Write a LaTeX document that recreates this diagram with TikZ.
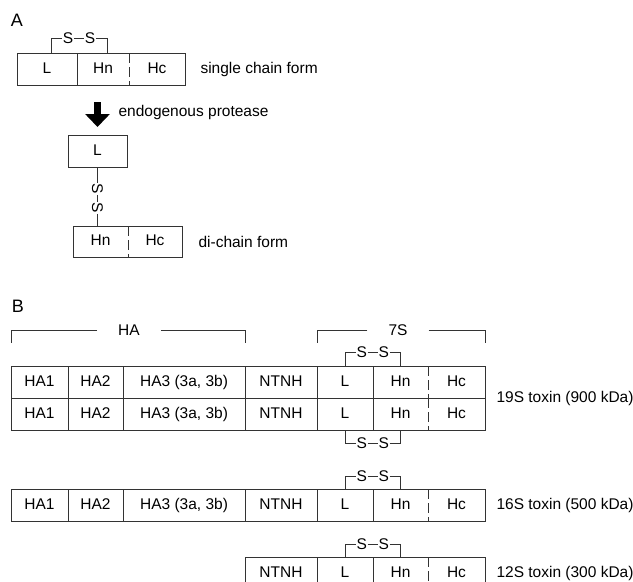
\documentclass[tikz,border=0pt]{standalone}
\usepackage{fontspec}
\setmainfont{Liberation Sans}
\usetikzlibrary{arrows.meta,positioning,calc}
\tikzset{
  box/.style={draw=black!80,line width=1pt},
  cell/.style={minimum height=32pt,inner sep=0pt,outer sep=0pt,text height=11.5pt,text depth=3pt},
  ssnode/.style={inner sep=0.8pt,outer sep=0pt},
  bigarrow/.style={line width=7pt,-{Triangle[width=24pt,length=13pt]}},
  cleave/.style={dash pattern=on 10pt off 4pt},
  tag/.style={font=\fontsize{18}{20}\selectfont},
}

\begin{document}
\begin{tikzpicture}[x=1pt,y=-1pt,every node/.style={font=\fontsize{15.5}{18}\selectfont}]
  \clip (0,0) rectangle (633,582);

  % ---- A: single chain and di-chain form
  \node[tag] (tagA) at (17,20) {A};

  \node[cell,anchor=north west,minimum width=60pt] (a-l) at (17,53) {L};
  \node[cell,right=0pt of a-l,minimum width=52pt] (a-hn) {Hn};
  \node[cell,right=0pt of a-hn,minimum width=56pt] (a-hc) {Hc};
  \node[right=12pt of a-hc] (single) {single chain form};
  \draw[box] (a-l.north west) rectangle (a-hc.south east);
  \draw[box] (a-l.north east) -- (a-l.south east);
  \draw[box,cleave] (a-hn.north east) -- (a-hn.south east);

  \coordinate (am) at ($([xshift=4pt]a-l.north)!0.5!([xshift=4pt]a-hn.north)$);
  \node[ssnode] (sa-a) at ($(am)+(-11,-15)$) {S};
  \node[ssnode] (sa-b) at ($(am)+(11,-15)$) {S};
  \draw[box] ([xshift=4pt]a-l.north) |- (sa-a.west) (sa-a) -- (sa-b) (sa-b.east) -| ([xshift=4pt]a-hn.north);

  \node[cell,draw=black!80,line width=1pt,anchor=north west,minimum width=59pt] (lb) at (68,135) {L};
  \draw[bigarrow,shorten <=17pt,shorten >=8pt] (lb.north |- a-l.south) -- (lb.north);
  \node[anchor=west] (prot) at (115,112) {endogenous protease};

  \node[cell,anchor=north west,minimum width=55pt,minimum height=31pt] (hb-hn) at (73,226) {Hn};
  \node[cell,right=0pt of hb-hn,minimum width=54pt,minimum height=31pt] (hb-hc) {Hc};
  \node[right=13pt of hb-hc] (dichain) {di-chain form};
  \draw[box] (hb-hn.north west) rectangle (hb-hc.south east);
  \draw[box,cleave] (hb-hn.north east) -- (hb-hn.south east);

  \node[ssnode,rotate=-90] (sv-a) at ($(lb.south)+(0,22)$) {S};
  \node[ssnode,rotate=-90] (sv-b) at ($(lb.south)+(0,41)$) {S};
  \draw[box] (lb.south) -- (sv-a) -- (sv-b) -- (sv-b |- hb-hn.north);

  % ---- B: progenitor toxins
  \node[tag] (tagB) at (18,306) {B};

  \foreach \r/\y in {1/366,2/398,3/489}{
    \node[cell,anchor=north west,minimum width=57pt] (r\r-ha1) at (11,\y) {HA1};
    \node[cell,right=0pt of r\r-ha1,minimum width=55pt] (r\r-ha2) {HA2};
    \node[cell,right=0pt of r\r-ha2,minimum width=122pt] (r\r-ha3) {HA3 (3a, 3b)};
    \node[cell,right=0pt of r\r-ha3,minimum width=72pt] (r\r-ntnh) {NTNH};
  }
  \node[cell,anchor=north west,minimum width=72pt] (r4-ntnh) at (245,557) {NTNH};
  \foreach \r in {1,2,3,4}{
    \node[cell,right=0pt of r\r-ntnh,minimum width=56pt] (r\r-l) {L};
    \node[cell,right=0pt of r\r-l,minimum width=55pt] (r\r-hn) {Hn};
    \node[cell,right=0pt of r\r-hn,minimum width=57pt] (r\r-hc) {Hc};
    \draw[box,cleave] (r\r-hn.north east) -- (r\r-hn.south east);
  }
  \foreach \r in {1,2,3}{
    \draw[box] (r\r-ha1.north west) rectangle (r\r-hc.south east);
    \foreach \c in {ha1,ha2,ha3,ntnh,l}
      \draw[box] (r\r-\c.north east) -- (r\r-\c.south east);
  }
  \draw[box] (r4-ntnh.north west) rectangle (r4-hc.south east);
  \foreach \c in {ntnh,l}
    \draw[box] (r4-\c.north east) -- (r4-\c.south east);

  % disulfide bridges
  \foreach \r/\h in {1/-14,3/-13,4/-13,2/13}{
    \ifnum\h<0
      \coordinate (m\r) at ($(r\r-l.north)!0.5!(r\r-hn.north)$);
      \node[ssnode] (ss\r-a) at ($(m\r)+(-11,\h)$) {S};
      \node[ssnode] (ss\r-b) at ($(m\r)+(11,\h)$) {S};
      \draw[box] (r\r-l.north) |- (ss\r-a.west) (ss\r-a) -- (ss\r-b) (ss\r-b.east) -| (r\r-hn.north);
    \else
      \coordinate (m\r) at ($(r\r-l.south)!0.5!(r\r-hn.south)$);
      \node[ssnode] (ss\r-a) at ($(m\r)+(-11,\h)$) {S};
      \node[ssnode] (ss\r-b) at ($(m\r)+(11,\h)$) {S};
      \draw[box] (r\r-l.south) |- (ss\r-a.west) (ss\r-a) -- (ss\r-b) (ss\r-b.east) -| (r\r-hn.south);
    \fi
  }

  % HA and 7S brackets
  \node[inner xsep=21pt] (hat) at (129,330) {HA};
  \draw[box] (hat.west) -| ([yshift=23pt]r1-ha1.north west);
  \draw[box] (hat.east) -| ([yshift=23pt]r1-ha3.north east);
  \node[inner xsep=21pt] (sev) at (398,330) {7S};
  \draw[box] (sev.west) -| ([yshift=23pt]r1-l.north west);
  \draw[box] (sev.east) -| ([yshift=23pt]r1-hc.north east);

  \node[right=8pt of r1-hc.south east] (t19) {19S toxin (900 kDa)};
  \node[right=8pt of r3-hc] (t16) {16S toxin (500 kDa)};
  \node[right=8pt of r4-hc] (t12) {12S toxin (300 kDa)};
\end{tikzpicture}
\end{document}
